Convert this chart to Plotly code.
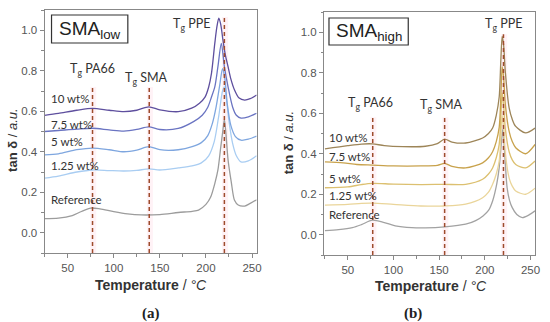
import plotly.graph_objects as go

# ---------------- data ----------------
# Panel (a) SMA_low
a_ref_T = [25, 40, 55, 65, 75, 85, 100, 115, 130, 150, 170, 185, 192, 200, 205, 210, 213, 216, 218.5, 220, 221.5, 224, 227.5, 231, 235, 242, 248, 255]
a_ref_v = [0.07, 0.072, 0.085, 0.105, 0.122, 0.118, 0.104, 0.093, 0.088, 0.09, 0.100, 0.106, 0.112, 0.14, 0.175, 0.25, 0.31, 0.42, 0.51, 0.56, 0.50, 0.36, 0.25, 0.16, 0.137, 0.132, 0.145, 0.163]

a_125_T = [25, 40, 60, 77, 95, 111, 125, 138, 150, 170, 185, 195, 203, 209, 214, 218, 220, 222, 225, 229, 233, 238, 246, 255]
a_125_v = [0.27, 0.28, 0.30, 0.31, 0.307, 0.305, 0.308, 0.315, 0.31, 0.32, 0.33, 0.345, 0.38, 0.45, 0.58, 0.70, 0.72, 0.67, 0.55, 0.44, 0.38, 0.35, 0.355, 0.38]

a_5_T = [25, 40, 60, 77, 95, 111, 125, 138, 150, 170, 185, 195, 202, 207, 211, 215, 218, 220.5, 223, 227, 232, 238, 246, 255]
a_5_v = [0.385, 0.39, 0.41, 0.418, 0.41, 0.40, 0.408, 0.425, 0.41, 0.41, 0.425, 0.445, 0.48, 0.54, 0.62, 0.73, 0.81, 0.76, 0.64, 0.53, 0.475, 0.457, 0.462, 0.477]

a_75_T = [25, 40, 60, 77, 95, 111, 125, 138, 150, 170, 187, 196, 202, 206, 209.6, 213, 216.7, 220, 224, 229, 233, 238, 246, 255]
a_75_v = [0.50, 0.505, 0.512, 0.516, 0.508, 0.502, 0.51, 0.523, 0.51, 0.515, 0.55, 0.58, 0.62, 0.67, 0.72, 0.82, 0.935, 0.82, 0.72, 0.62, 0.58, 0.566, 0.572, 0.59]

a_10_T = [25, 40, 60, 77, 95, 111, 125, 138, 150, 170, 184.5, 193, 199, 203, 206, 209.6, 212, 214, 216, 218.5, 221, 224, 227, 231, 236, 242, 248, 255]
a_10_v = [0.58, 0.59, 0.605, 0.614, 0.605, 0.598, 0.605, 0.622, 0.607, 0.598, 0.615, 0.64, 0.67, 0.72, 0.787, 0.935, 1.02, 1.06, 1.03, 0.95, 0.88, 0.82, 0.76, 0.705, 0.665, 0.655, 0.662, 0.68]

# Panel (b) SMA_high
b_ref_T = [25, 40, 55, 65, 77, 90, 102, 120, 135, 156, 179, 190, 198, 204, 208.5, 213, 215.7, 218, 219.5, 221, 224.4, 227, 230, 235, 241, 248, 255]
b_ref_v = [0.02, 0.025, 0.035, 0.05, 0.072, 0.06, 0.044, 0.035, 0.034, 0.039, 0.052, 0.07, 0.093, 0.12, 0.167, 0.25, 0.33, 0.45, 0.52, 0.45, 0.232, 0.17, 0.134, 0.10, 0.085, 0.097, 0.118]

b_125_T = [25, 50, 65, 77, 100, 130, 156, 179, 197.6, 204, 208.5, 212.5, 215.7, 217.5, 219, 220.5, 222.5, 226.6, 230, 233.8, 244.6, 255]
b_125_v = [0.146, 0.15, 0.155, 0.156, 0.15, 0.142, 0.142, 0.151, 0.183, 0.21, 0.249, 0.30, 0.364, 0.48, 0.59, 0.53, 0.40, 0.28, 0.24, 0.216, 0.20, 0.23]

b_5_T = [25, 50, 65, 77, 100, 130, 156, 179, 197.6, 204, 208.5, 212.5, 215.7, 217.5, 219, 220.5, 222.5, 226.6, 230, 233.8, 244.6, 255]
b_5_v = [0.232, 0.236, 0.248, 0.254, 0.25, 0.248, 0.249, 0.249, 0.274, 0.30, 0.33, 0.38, 0.446, 0.58, 0.70, 0.64, 0.52, 0.41, 0.37, 0.347, 0.33, 0.364]

b_75_T = [25, 45, 60, 77, 100, 130, 148, 156, 164, 179, 197.6, 204, 208.5, 212.5, 215.7, 217.5, 219, 220.5, 222.5, 226.6, 230, 233.8, 244.6, 255]
b_75_v = [0.36, 0.355, 0.347, 0.344, 0.34, 0.34, 0.343, 0.352, 0.338, 0.33, 0.355, 0.38, 0.41, 0.46, 0.53, 0.68, 0.83, 0.78, 0.64, 0.51, 0.46, 0.43, 0.40, 0.446]

b_10_T = [25, 50, 65, 77, 90, 110, 135, 148, 156, 164, 179, 197.6, 204, 208.5, 212.5, 215.7, 217.5, 219, 220.5, 222.5, 226.6, 230, 233.8, 244.6, 255]
b_10_v = [0.424, 0.44, 0.448, 0.449, 0.44, 0.435, 0.437, 0.45, 0.472, 0.458, 0.453, 0.478, 0.50, 0.527, 0.59, 0.68, 0.86, 0.98, 0.94, 0.80, 0.626, 0.57, 0.535, 0.503, 0.527]

series_labels = ["Reference", "1.25 wt%", "5 wt%", "7.5 wt%", "10 wt%"]
a_colors = ["#9c9c9c", "#a9cdf2", "#7ea6df", "#6a74c2", "#5e4f9e"]
b_colors = ["#a2a2a2", "#ead59a", "#dcc070", "#c8a24c", "#9d8558"]

# Tg marker lines: (temperature, top value, label)
a_tg = [(77, 0.72, "T<sub>g</sub> PA66"), (138.5, 0.72, "T<sub>g</sub> SMA"), (220, 1.065, "T<sub>g</sub> PPE")]
b_tg = [(77.3, 0.58, "T<sub>g</sub> PA66"), (156, 0.58, "T<sub>g</sub> SMA"), (220.4, 0.99, "T<sub>g</sub> PPE")]

W, H = 550, 322
def px(x): return x / W
def py(y): return 1 - y / H

fig = go.Figure()

a_data = [(a_ref_T, a_ref_v), (a_125_T, a_125_v), (a_5_T, a_5_v), (a_75_T, a_75_v), (a_10_T, a_10_v)]
b_data = [(b_ref_T, b_ref_v), (b_125_T, b_125_v), (b_5_T, b_5_v), (b_75_T, b_75_v), (b_10_T, b_10_v)]

for (T, v), c, name in zip(a_data, a_colors, series_labels):
    fig.add_trace(go.Scatter(x=T, y=v, mode="lines", line=dict(color=c, width=1.3, shape="spline", smoothing=0.8),
                             name=name, xaxis="x", yaxis="y", showlegend=False))
for (T, v), c, name in zip(b_data, b_colors, series_labels):
    fig.add_trace(go.Scatter(x=T, y=v, mode="lines", line=dict(color=c, width=1.3, shape="spline", smoothing=0.8),
                             name=name, xaxis="x2", yaxis="y2", showlegend=False))

shapes = []
annotations = []
dash_color = "#9e4b2c"
band_color = "rgba(255,195,215,0.22)"
for (t, top, lbl), xr, yr in [(tg, "x", "y") for tg in a_tg] + [(tg, "x2", "y2") for tg in b_tg]:
    shapes.append(dict(type="rect", xref=xr, yref=yr, x0=t - 2.5, x1=t + 4, y0=-0.1, y1=top,
                       fillcolor=band_color, line=dict(width=0), layer="below"))
    shapes.append(dict(type="line", xref=xr, yref=yr, x0=t, x1=t, y0=-0.1, y1=top,
                       line=dict(color=dash_color, width=1.5, dash="4px,3px")))

lab_font = dict(family="Lato, Open Sans, sans-serif", size=11.5, color="#333333")
# Tg labels (pixel positions)
for x, y, t in [(93, 70, a_tg[0][2]), (148, 78, a_tg[1][2]), (193, 25, a_tg[2][2]),
                (374, 104, b_tg[0][2]), (446, 105, b_tg[1][2]), (508, 24, b_tg[2][2])]:
    annotations.append(dict(x=px(x), y=py(y), xref="paper", yref="paper", text=t, showarrow=False,
                            font=dict(family="Lato, Open Sans, sans-serif", size=12.5, color="#333333"),
                            xanchor="center", yanchor="middle"))

# series labels
for lbl, y in zip(["10 wt%", "7.5 wt%", "5 wt%", "1.25 wt%", "Reference"], [99, 124, 141, 165, 199]):
    annotations.append(dict(x=px(49), y=py(y), xref="paper", yref="paper", text=lbl, showarrow=False,
                            font=lab_font, xanchor="left", yanchor="middle"))
for lbl, y in zip(["10 wt%", "7.5 wt%", "5 wt%", "1.25 wt%", "Reference"], [137, 156, 178, 195, 214]):
    annotations.append(dict(x=px(330), y=py(y), xref="paper", yref="paper", text=lbl, showarrow=False,
                            font=lab_font, xanchor="left", yanchor="middle"))

# SMA boxes
for (x0, y0, x1, y1, t) in [(52, 15, 129, 43, "SMA<sub>low</sub>"), (332, 18, 412, 45, "SMA<sub>high</sub>")]:
    shapes.append(dict(type="rect", xref="paper", yref="paper", x0=px(x0), x1=px(x1), y0=py(y1), y1=py(y0),
                       line=dict(color="#333333", width=1.2), fillcolor="white"))
    annotations.append(dict(x=px((x0 + x1) / 2), y=py((y0 + y1) / 2 + 1), xref="paper", yref="paper", text=t,
                            showarrow=False, font=dict(family="Liberation Sans, Arial, sans-serif", size=19, color="#222222"),
                            xanchor="center", yanchor="middle"))

# axis titles
title_font = dict(family="Liberation Sans, Arial, sans-serif", size=14, color="#333333")
for x, y in [(152, 285), (435, 286)]:
    annotations.append(dict(x=px(x), y=py(y), xref="paper", yref="paper", text="<b>Temperature</b> / <i>°C</i>",
                            showarrow=False, font=title_font, xanchor="center", yanchor="middle"))
for x, y in [(13, 140), (291, 142)]:
    annotations.append(dict(x=px(x), y=py(y), xref="paper", yref="paper", text="<b>tan δ</b> / <i>a.u.</i>",
                            showarrow=False, font=dict(family="Liberation Sans, Arial, sans-serif", size=13, color="#333333"),
                            textangle=-90, xanchor="center", yanchor="middle"))
# captions
for x, t in [(152, "(a)"), (417, "(b)")]:
    annotations.append(dict(x=px(x), y=py(313), xref="paper", yref="paper", text="<b>%s</b>" % t, showarrow=False,
                            font=dict(family="Liberation Serif, DejaVu Serif, serif", size=15, color="#222222"),
                            xanchor="center", yanchor="middle"))

tick_font = dict(family="Liberation Sans, Arial, sans-serif", size=11.5, color="#555555")
def xax(domain, rng, anchor):
    return dict(domain=domain, range=rng, anchor=anchor, showgrid=False, zeroline=False,
                showline=True, linecolor="#888888", linewidth=1, mirror=True,
                ticks="outside", ticklen=4, tickcolor="#888888", tickvals=[50, 100, 150, 200, 250],
                tickfont=tick_font, minor=dict(ticks="outside", ticklen=2.5, tickcolor="#888888", dtick=25, tick0=0))
def yax(domain, anchor):
    return dict(domain=domain, range=[-0.1, 1.1], anchor=anchor, showgrid=False, zeroline=False,
                showline=True, linecolor="#888888", linewidth=1, mirror=True,
                ticks="outside", ticklen=4, tickcolor="#888888", tickvals=[0, 0.2, 0.4, 0.6, 0.8, 1.0],
                tickformat=".1f", tickfont=tick_font,
                minor=dict(ticks="outside", ticklen=2.5, tickcolor="#888888", dtick=0.1, tick0=0))

fig.update_layout(
    width=W, height=H, margin=dict(l=0, r=0, t=0, b=0),
    paper_bgcolor="white", plot_bgcolor="white",
    xaxis=xax([px(45), px(259)], [25, 255], "y"),
    yaxis=yax([py(253), py(10)], "x"),
    xaxis2=xax([px(327), px(540)], [24, 255], "y2"),
    yaxis2=yax([py(255), py(12)], "x2"),
    shapes=shapes, annotations=annotations,
)

fig.write_html("out.html", config={"displayModeBar": False},
               post_script="document.body.style.margin='0';document.body.style.padding='0';")
